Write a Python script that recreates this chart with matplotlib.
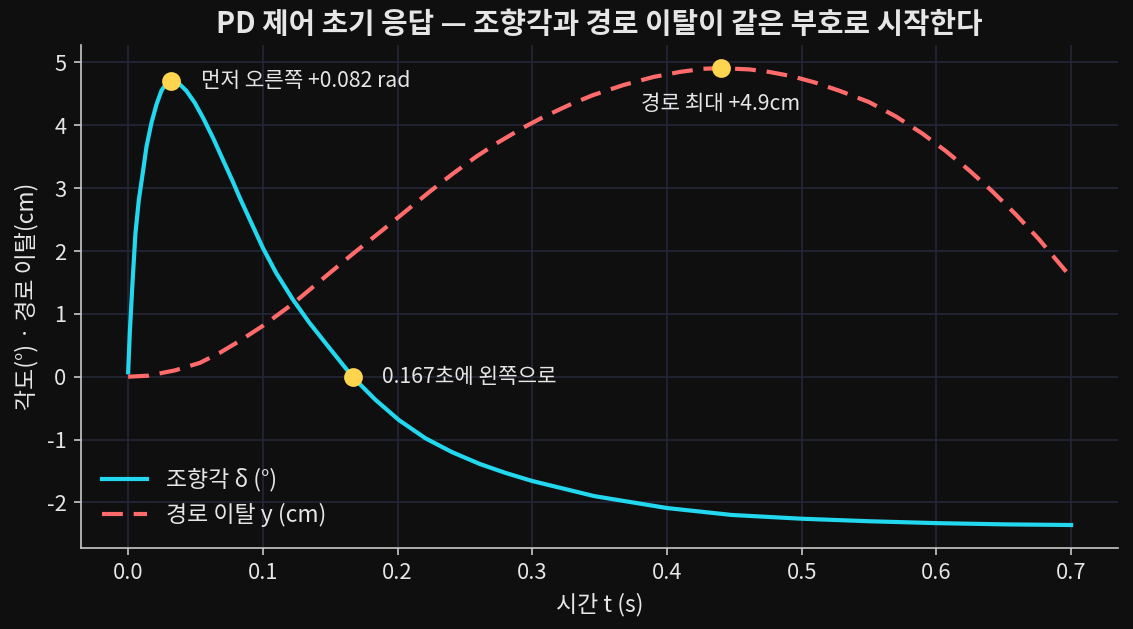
import matplotlib
matplotlib.use("Agg")
import matplotlib.pyplot as plt

# values
steer_t = [0.0, 0.0012, 0.0032, 0.0054, 0.0079, 0.0111, 0.0136, 0.0173,
           0.021, 0.0247, 0.0284, 0.0321, 0.037, 0.0432, 0.0494, 0.0556,
           0.063, 0.0704, 0.0778, 0.0828, 0.0901, 0.100, 0.1099, 0.1222,
           0.1345, 0.1493, 0.1665, 0.1837, 0.201, 0.2207, 0.2404, 0.2612,
           0.280, 0.300, 0.346, 0.400, 0.448, 0.500, 0.550, 0.600, 0.652,
           0.700]
steer_deg = [0.07, 0.69, 1.49, 2.28, 2.81, 3.28, 3.66, 4.04,
             4.33, 4.55, 4.67, 4.71, 4.68, 4.55, 4.36, 4.12,
             3.80, 3.45, 3.10, 2.85, 2.51, 2.05, 1.65, 1.23,
             0.86, 0.46, 0.0, -0.37, -0.69, -0.98, -1.20, -1.39,
             -1.53, -1.66, -1.90, -2.09, -2.20, -2.26, -2.30, -2.33, -2.35,
             -2.36]

path_t = [0.0, 0.0148, 0.0346, 0.0532, 0.068, 0.0828, 0.100, 0.1222,
          0.1468, 0.1665, 0.1887, 0.2087, 0.2236, 0.241, 0.2583, 0.2732,
          0.293, 0.308, 0.328, 0.345, 0.3675, 0.390, 0.4096, 0.427,
          0.440, 0.461, 0.4758, 0.493, 0.510, 0.528, 0.550, 0.570,
          0.5895, 0.607, 0.624, 0.641, 0.659, 0.676, 0.698, 0.700]
path_cm = [0.0, 0.016, 0.10, 0.22, 0.38, 0.57, 0.81, 1.16,
           1.60, 1.95, 2.33, 2.68, 2.94, 3.23, 3.50, 3.71,
           3.96, 4.13, 4.33, 4.48, 4.64, 4.77, 4.85, 4.90,
           4.91, 4.89, 4.85, 4.78, 4.68, 4.55, 4.37, 4.14,
           3.87, 3.59, 3.29, 2.96, 2.58, 2.19, 1.63, 1.58]

# highlighted points
peak_pt = (0.0321, 4.71)
cross_pt = (0.167, 0.0)
path_max_pt = (0.44, 4.91)

BG = "#0f0f10"
FG = "#e6e6e6"
CYAN = "#22d8ee"
RED = "#ff6b6b"
YELLOW = "#ffd54f"

plt.rcParams['font.family'] = ['Noto Sans CJK KR', 'DejaVu Sans']
plt.rcParams['axes.unicode_minus'] = False

fig = plt.figure(figsize=(1133 / 150, 629 / 150), dpi=150, facecolor=BG)
ax = fig.add_axes([0.0715, 0.129, 0.9155, 0.799])
ax.set_facecolor(BG)

ax.plot(steer_t, steer_deg, color=CYAN, lw=2.0, label="조향각 δ (°)", zorder=3)
ax.plot(path_t, path_cm, color=RED, lw=2.0, dashes=(5, 2.6),
        label="경로 이탈 y (cm)", zorder=3)

for (px, py) in [peak_pt, cross_pt, path_max_pt]:
    ax.plot(px, py, "o", color=YELLOW, ms=8, zorder=5)

ax.annotate("먼저 오른쪽 +0.082 rad", xy=peak_pt, xytext=(14, 0),
            textcoords="offset points", ha="left", va="center",
            color=FG, fontsize=10.2)
ax.annotate("0.167초에 왼쪽으로", xy=cross_pt, xytext=(14, 0),
            textcoords="offset points", ha="left", va="center",
            color=FG, fontsize=10.2)
ax.annotate("경로 최대 +4.9cm", xy=path_max_pt, xytext=(0, -17),
            textcoords="offset points", ha="center", va="center",
            color=FG, fontsize=10.2)

ax.set_title("PD 제어 초기 응답 — 조향각과 경로 이탈이 같은 부호로 시작한다",
             color=FG, fontsize=13.8, fontweight="bold", pad=6)
ax.set_xlabel("시간 t (s)", color=FG, fontsize=11)
ax.set_ylabel("각도(°) · 경로 이탈(cm)", color=FG, fontsize=11)

ax.grid(True, color="#24263a", lw=0.8)
ax.set_axisbelow(True)
for side in ["top", "right"]:
    ax.spines[side].set_visible(False)
for side in ["left", "bottom"]:
    ax.spines[side].set_color("#c8c8c8")
ax.tick_params(colors="#c8c8c8", labelcolor=FG, labelsize=10.5)

leg = ax.legend(loc="lower left", frameon=False, fontsize=11)
for txt in leg.get_texts():
    txt.set_color(FG)

fig.savefig("out.png", dpi=150, facecolor=BG)
